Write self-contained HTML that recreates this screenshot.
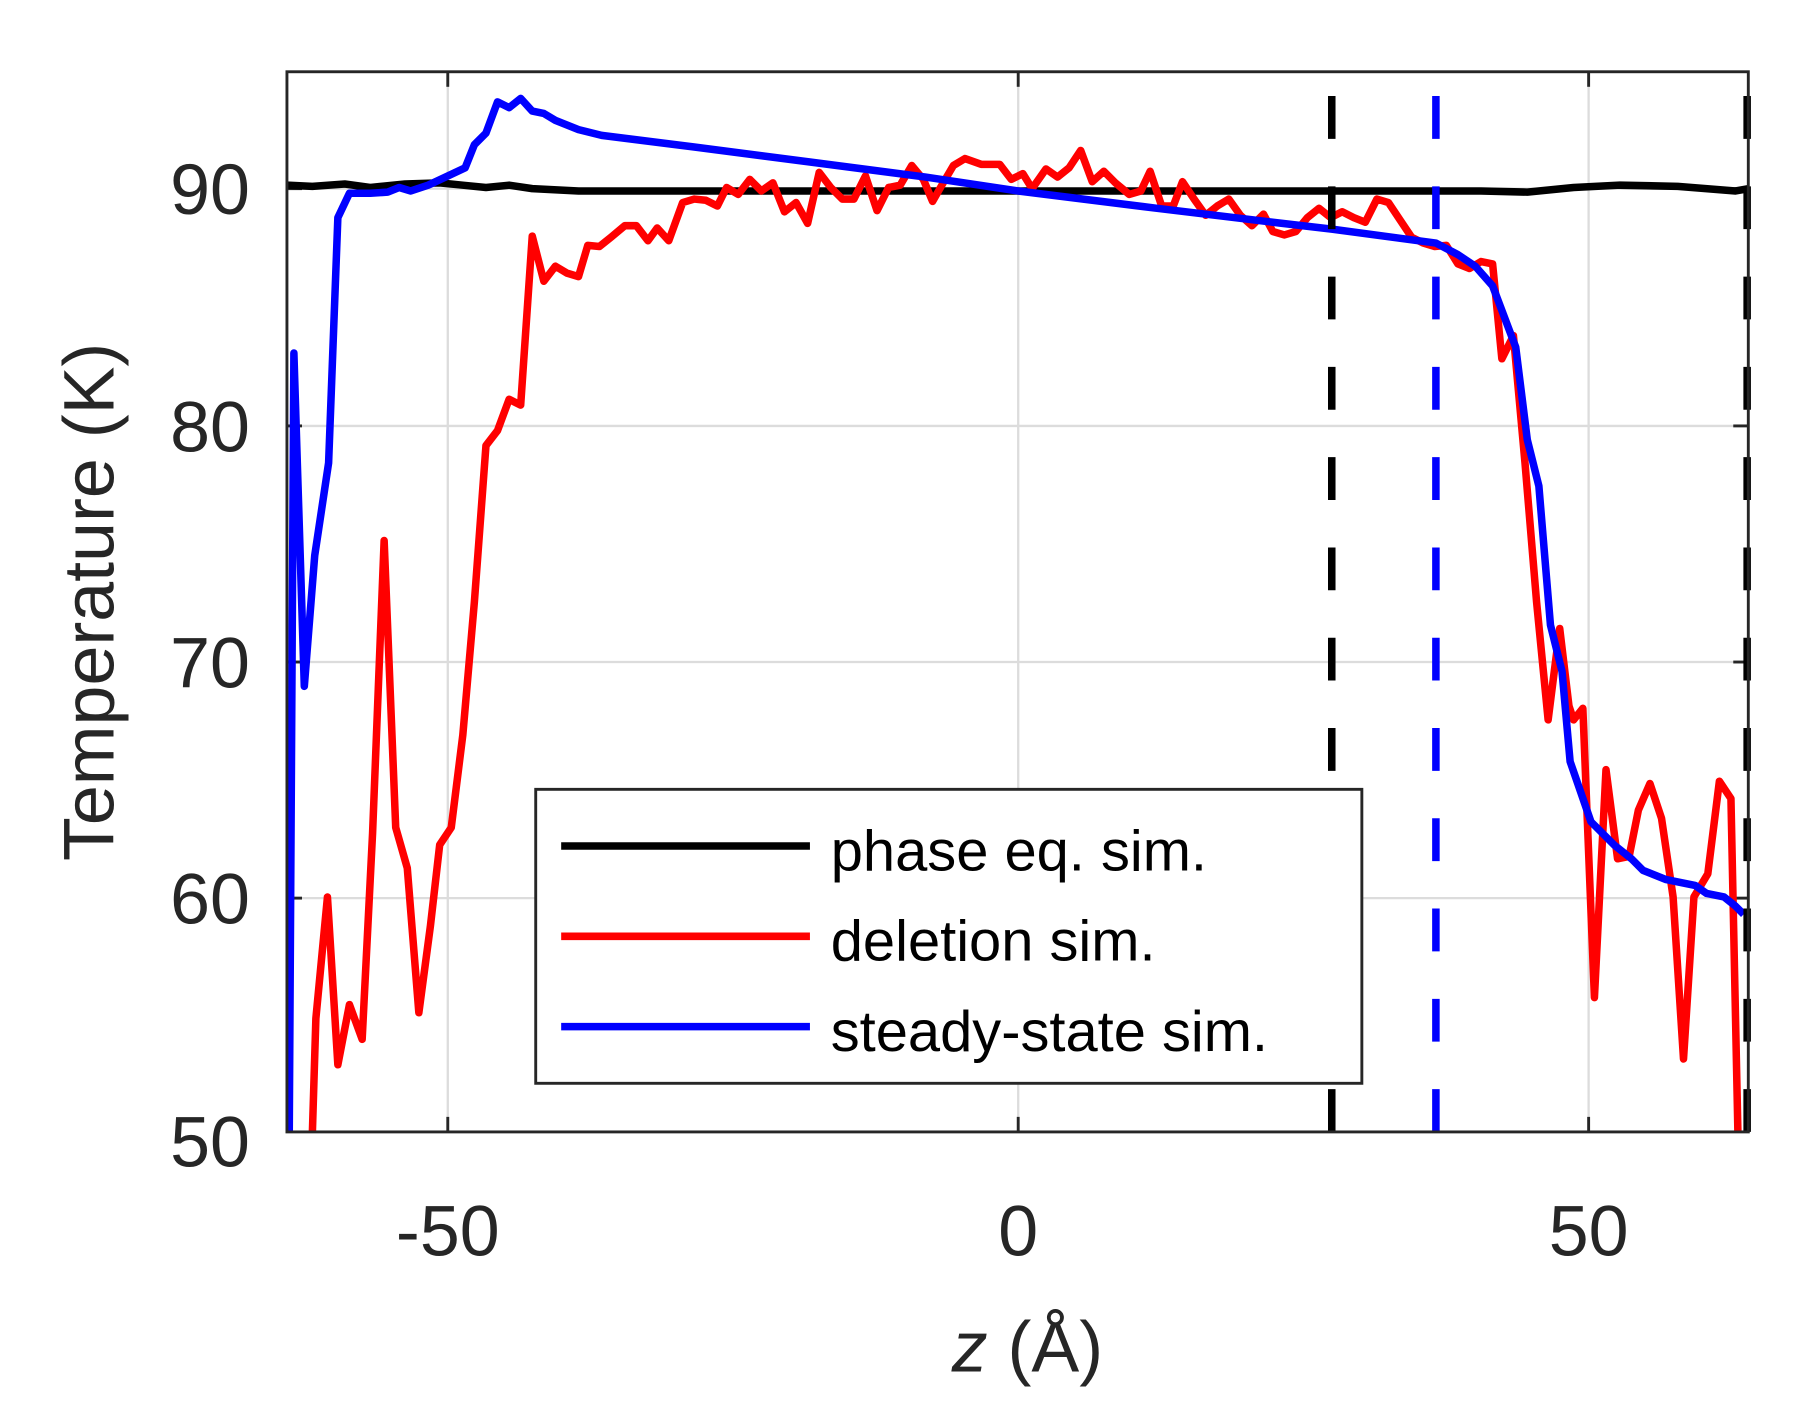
<!DOCTYPE html>
<html><head><meta charset="utf-8"><style>html,body{margin:0;padding:0;background:#fff}svg{display:block}</style></head>
<body>
<svg width="1805" height="1412" viewBox="0 0 1560 1220" preserveAspectRatio="none" xmlns="http://www.w3.org/2000/svg" font-family="Liberation Sans, sans-serif">
<rect width="1560" height="1220" fill="#fff"/>
<g stroke="#dcdcdc" stroke-width="2">
<line x1="387" y1="62" x2="387" y2="978"/><line x1="880" y1="62" x2="880" y2="978"/><line x1="1373" y1="62" x2="1373" y2="978"/>
<line x1="248" y1="163" x2="1511" y2="163"/><line x1="248" y1="368" x2="1511" y2="368"/><line x1="248" y1="572" x2="1511" y2="572"/><line x1="248" y1="776" x2="1511" y2="776"/>
</g>
<g stroke="#262626" stroke-width="2.5">
<line x1="387" y1="978" x2="387" y2="965"/><line x1="880" y1="978" x2="880" y2="965"/><line x1="1373" y1="978" x2="1373" y2="965"/>
<line x1="387" y1="62" x2="387" y2="75"/><line x1="880" y1="62" x2="880" y2="75"/><line x1="1373" y1="62" x2="1373" y2="75"/>
<line x1="248" y1="163" x2="261" y2="163"/><line x1="248" y1="368" x2="261" y2="368"/><line x1="248" y1="572" x2="261" y2="572"/><line x1="248" y1="776" x2="261" y2="776"/>
<line x1="1511" y1="163" x2="1498" y2="163"/><line x1="1511" y1="368" x2="1498" y2="368"/><line x1="1511" y1="572" x2="1498" y2="572"/><line x1="1511" y1="776" x2="1498" y2="776"/>
</g>
<g fill="none" stroke-width="6.5" stroke-linejoin="round">
<polyline stroke="#000" points="248,160 270,161 298,159 320,162 350,159 380,158 400,160 420,162 440,160 460,163 500,165 600,165 880,165 1150,165 1280,165 1320,166 1360,162 1400,160 1450,161 1500,165 1511,163"/>
<polyline stroke="#ff0000" points="270,978 273,880 283,775 292,920 302,868 313,898 322,720 332,467 342,715 352,750 362,875 372,800 380,730 390,715 400,635 410,520 420,385 430,372 440,345 450,350 460,204 470,243 480,230 490,236 500,239 508,212 518,213 528,205 540,195 550,195 560,208 568,197 578,208 590,175 600,172 610,173 620,178 628,162 638,168 648,155 658,165 668,158 678,183 688,175 698,193 708,149 718,162 728,172 738,172 748,152 758,182 768,162 778,160 788,143 798,155 806,174 814,160 824,143 834,137 848,142 864,142 874,155 884,150 892,163 904,146 914,153 924,145 934,130 944,157 954,148 964,158 976,168 986,165 994,148 1004,178 1014,178 1022,157 1032,172 1042,186 1052,178 1062,172 1072,186 1082,195 1092,185 1100,200 1110,203 1120,200 1130,188 1140,180 1150,188 1160,183 1170,188 1180,192 1190,172 1200,175 1210,190 1220,205 1230,210 1240,213 1250,212 1260,228 1270,232 1280,226 1290,228 1298,310 1308,290 1318,400 1328,520 1338,622 1348,543 1356,610 1360,622 1368,612 1378,862 1388,665 1398,742 1408,740 1416,700 1426,677 1436,707 1446,775 1455,915 1464,775 1476,755 1486,675 1496,690 1502,978"/>
<polyline stroke="#0000ff" points="250,978 254,305 263,593 272,480 284,400 292,188 302,167 320,167 335,166 345,162 355,165 370,160 385,153 402,145 410,125 420,115 430,88 440,93 450,85 460,96 470,98 480,104 500,112 520,117 600,127 700,140 800,153 880,165 1000,180 1100,192 1151,198 1241,210 1260,220 1275,230 1290,247 1310,300 1320,380 1330,420 1340,540 1350,580 1357,658 1375,710 1395,730 1410,742 1420,752 1440,760 1465,765 1475,772 1490,775 1500,783 1507,790"/>
<line x1="1151" y1="978" x2="1151" y2="62" stroke="#000" stroke-dasharray="37 41"/>
<line x1="1241" y1="978" x2="1241" y2="62" stroke="#0000ff" stroke-dasharray="37 41"/>
<line x1="1510" y1="978" x2="1510" y2="62" stroke="#000" stroke-dasharray="37 41"/>
</g>
<rect x="248" y="62" width="1263" height="916" fill="none" stroke="#262626" stroke-width="2.5"/>
<rect x="463" y="682" width="714" height="254" fill="#fff" stroke="#262626" stroke-width="2.5"/>
<g stroke-width="6.5"><line x1="485" y1="731" x2="700" y2="731" stroke="#000"/><line x1="485" y1="809" x2="700" y2="809" stroke="#ff0000"/><line x1="485" y1="887" x2="700" y2="887" stroke="#0000ff"/></g>
<g font-size="50" fill="#000"><text x="718" y="752">phase eq. sim.</text><text x="718" y="830">deletion sim.</text><text x="718" y="908">steady-state sim.</text></g>
<g font-size="62" fill="#262626">
<g text-anchor="middle"><text x="387" y="1085">-50</text><text x="880" y="1085">0</text><text x="1373" y="1085">50</text></g>
<g text-anchor="end"><text x="216" y="185">90</text><text x="216" y="390">80</text><text x="216" y="594">70</text><text x="216" y="798">60</text><text x="216" y="1008">50</text></g>
<text x="888" y="1185" text-anchor="middle"><tspan font-style="italic">z</tspan> (Å)</text>
<text transform="translate(98,520) rotate(-90)" text-anchor="middle">Temperature (K)</text>
</g>
</svg>
</body></html>
